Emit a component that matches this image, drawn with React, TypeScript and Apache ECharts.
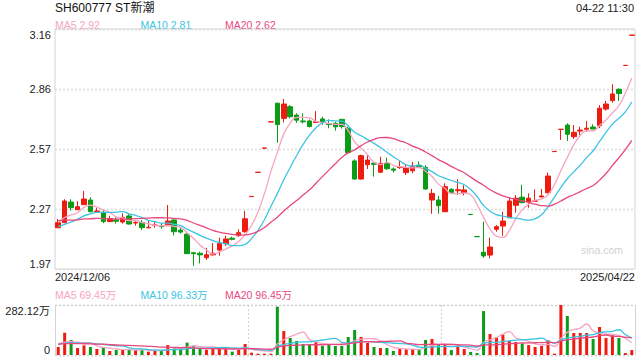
import React, { useEffect, useRef } from 'react';
import * as echarts from 'echarts';

// ---- data ----
const tradingDays: [string, number[]][] = [
  ['2024/12', [6, 9, 10, 11, 12, 13, 16, 17, 18, 19, 20, 23, 24, 25, 26, 27, 30, 31]],
  ['2025/01', [2, 3, 6, 7, 8, 9, 10, 13, 14, 15, 16, 17, 20, 21, 22, 23, 24, 27]],
  ['2025/02', [5, 6, 7, 10, 11, 12, 13, 14, 17, 18, 19, 20, 21, 24, 25, 26, 27, 28]],
  ['2025/03', [3, 4, 5, 6, 7, 10, 11, 12, 13, 14, 17, 18, 19, 20, 21, 24, 25, 26, 27, 28, 31]],
  ['2025/04', [1, 2, 3, 7, 8, 9, 10, 11, 14, 15, 16, 17, 18, 21, 22]],
];
const dates: string[] = tradingDays.flatMap(([m, ds]) => ds.map((d) => `${m}/${String(d).padStart(2, '0')}`));

const opens = [
  2.175, 2.200, 2.302, 2.264, 2.289, 2.312, 2.255, 2.251, 2.205, 2.213,
  2.203, 2.233, 2.198, 2.201, 2.174, 2.186, 2.183, 2.185, 2.213, 2.163,
  2.143, 2.051, 2.048, 2.026, 2.040, 2.064, 2.095, 2.123, 2.135, 2.155,
  2.329, 2.449, 2.569, 2.699, 2.792, 2.717, 2.775, 2.733, 2.704, 2.704,
  2.697, 2.714, 2.690, 2.692, 2.712, 2.668, 2.506, 2.416, 2.487, 2.495,
  2.450, 2.494, 2.466, 2.473, 2.448, 2.457, 2.484, 2.474, 2.312, 2.312,
  2.254, 2.365, 2.358, 2.348, 2.241, 2.131, 2.053, 2.039, 2.167, 2.183,
  2.224, 2.286, 2.326, 2.304, 2.306, 2.327, 2.348, 2.552, 2.662, 2.684,
  2.626, 2.654, 2.663, 2.674, 2.680, 2.763, 2.805, 2.861, 2.979, 3.129,
];
const closes = [
  2.200, 2.307, 2.274, 2.279, 2.317, 2.254, 2.258, 2.205, 2.220, 2.207,
  2.226, 2.193, 2.200, 2.175, 2.177, 2.188, 2.180, 2.208, 2.155, 2.153,
  2.046, 2.046, 2.040, 2.041, 2.048, 2.097, 2.119, 2.117, 2.150, 2.219,
  2.330, 2.450, 2.570, 2.700, 2.686, 2.788, 2.725, 2.708, 2.700, 2.676,
  2.700, 2.697, 2.686, 2.675, 2.676, 2.547, 2.416, 2.532, 2.510, 2.489,
  2.494, 2.467, 2.460, 2.476, 2.472, 2.481, 2.477, 2.367, 2.345, 2.284,
  2.378, 2.348, 2.363, 2.362, 2.240, 2.130, 2.035, 2.079, 2.180, 2.208,
  2.307, 2.321, 2.299, 2.321, 2.308, 2.332, 2.431, 2.553, 2.663, 2.638,
  2.648, 2.659, 2.668, 2.664, 2.767, 2.788, 2.838, 2.840, 2.980, 3.130,
];
const lows = [
  2.172, 2.197, 2.259, 2.263, 2.289, 2.251, 2.250, 2.197, 2.203, 2.195,
  2.195, 2.191, 2.185, 2.163, 2.174, 2.175, 2.170, 2.183, 2.137, 2.146,
  2.044, 1.986, 1.998, 2.015, 2.037, 2.036, 2.085, 2.112, 2.130, 2.150,
  2.329, 2.449, 2.569, 2.699, 2.596, 2.697, 2.717, 2.695, 2.692, 2.672,
  2.695, 2.685, 2.668, 2.656, 2.666, 2.544, 2.413, 2.414, 2.466, 2.428,
  2.446, 2.462, 2.448, 2.466, 2.436, 2.445, 2.477, 2.362, 2.244, 2.244,
  2.254, 2.345, 2.337, 2.335, 2.240, 2.130, 2.025, 2.023, 2.155, 2.135,
  2.224, 2.249, 2.296, 2.274, 2.305, 2.325, 2.345, 2.552, 2.610, 2.605,
  2.615, 2.634, 2.651, 2.664, 2.668, 2.755, 2.795, 2.803, 2.979, 3.129,
];
const highs = [
  2.218, 2.316, 2.316, 2.306, 2.357, 2.326, 2.272, 2.263, 2.234, 2.226,
  2.246, 2.244, 2.210, 2.213, 2.210, 2.203, 2.198, 2.287, 2.216, 2.178,
  2.155, 2.053, 2.056, 2.075, 2.098, 2.125, 2.135, 2.131, 2.167, 2.258,
  2.330, 2.450, 2.570, 2.700, 2.795, 2.813, 2.783, 2.742, 2.742, 2.712,
  2.753, 2.725, 2.712, 2.700, 2.714, 2.676, 2.514, 2.537, 2.537, 2.496,
  2.527, 2.522, 2.474, 2.510, 2.487, 2.501, 2.504, 2.484, 2.367, 2.333,
  2.395, 2.370, 2.415, 2.385, 2.241, 2.131, 2.205, 2.125, 2.188, 2.254,
  2.325, 2.337, 2.387, 2.345, 2.365, 2.367, 2.448, 2.553, 2.663, 2.692,
  2.684, 2.676, 2.704, 2.687, 2.783, 2.803, 2.886, 2.866, 2.980, 3.130,
];
// volumes in 万 (10k shares)
const volumes = [
  45.0, 126.0, 85.0, 39.5, 54.5, 45.0, 34.0, 39.5, 22.6, 28.0,
  30.0, 30.0, 28.0, 30.0, 18.8, 24.5, 22.6, 56.0, 37.6, 39.5,
  69.6, 52.7, 37.6, 30.0, 37.6, 37.6, 37.6, 18.8, 30.0, 62.0,
  13.0, 7.5, 7.5, 7.5, 272.7, 135.0, 96.0, 79.0, 62.0, 62.0,
  73.4, 50.8, 58.0, 50.8, 50.8, 101.6, 141.0, 101.6, 69.6, 45.0,
  39.5, 39.5, 22.6, 37.6, 32.0, 34.0, 28.0, 84.6, 90.0, 58.0,
  56.0, 28.0, 45.0, 34.0, 17.0, 11.0, 248.0, 118.5, 99.7, 114.7,
  79.0, 73.4, 64.0, 56.0, 45.0, 50.8, 82.8, 7.5, 282.12, 220.0,
  124.0, 124.0, 124.0, 90.0, 158.0, 96.0, 111.0, 96.0, 11.0, 28.0,
];
// estimated sessions before the visible window (feed the moving averages at the left edge)
const priorCloses = [2.26, 2.28, 2.25, 2.22, 2.24, 2.21, 2.23, 2.25, 2.22, 2.24, 2.19, 2.16, 2.14, 2.15, 2.16, 2.18, 2.21, 2.22, 2.19];
const priorVolumes = [55, 62, 48, 70, 58, 66, 52, 60, 75, 57, 50, 64, 58, 61, 55, 72, 68, 60, 66];

const priceTickLabels = ['1.97', '2.27', '2.57', '2.86', '3.16'];
const priceMin = 1.97;
const priceMax = 3.16;
const maPeriods = [5, 10, 20];
const priceMaReadout = ['2.92', '2.81', '2.62'];
const volumeMaReadout = ['69.45万', '96.33万', '96.45万'];
const stockTitle = 'SH600777 ST新潮';
const timeStamp = '04-22 11:30';

// ---- styles ----
const FONT = "'Liberation Sans', Arial, 'Noto Sans CJK SC', sans-serif";
const UP = '#ee1c10';
const DOWN = '#0a9c17';
const MA_COLORS = ['#f7a3c2', '#3cc4e3', '#e9487f'];

function movingAverage(prior: number[], values: number[], n: number): number[] {
  const all = [...prior, ...values];
  return values.map((_, i) => {
    const end = prior.length + i;
    let s = 0;
    for (let k = 0; k < n; k++) s += all[end - k];
    return +(s / n).toFixed(4);
  });
}

function signOf(i: number): number {
  if (closes[i] > opens[i]) return 1;
  if (closes[i] < opens[i]) return -1;
  return i > 0 && closes[i - 1] > closes[i] ? -1 : 1;
}

export default function App() {
  const ref = useRef<HTMLDivElement>(null);

  useEffect(() => {
    if (!ref.current) return;
    const chart = echarts.init(ref.current, undefined, { renderer: 'svg' });

    const candleData = opens.map((o, i) => [o, closes[i], lows[i], highs[i]]);
    const volMax = Math.max(...volumes);
    const volData = volumes.map((v, i) => ({ value: v, itemStyle: { color: signOf(i) > 0 ? UP : DOWN } }));
    const priceInterval = (priceMax - priceMin) / (priceTickLabels.length - 1);

    const priceMaSeries = maPeriods.map((n, k) => ({
      type: 'line',
      name: `MA${n}`,
      xAxisIndex: 0,
      yAxisIndex: 0,
      data: movingAverage(priorCloses, closes, n),
      showSymbol: false,
      smooth: true,
      silent: true,
      lineStyle: { color: MA_COLORS[k], width: 1.3 },
      z: 3,
    }));
    const volMaSeries = maPeriods.map((n, k) => ({
      type: 'line',
      name: `VMA${n}`,
      xAxisIndex: 1,
      yAxisIndex: 1,
      data: movingAverage(priorVolumes, volumes, n),
      showSymbol: false,
      smooth: true,
      silent: true,
      lineStyle: { color: MA_COLORS[k], width: 1.3 },
      z: 3,
    }));

    const legendX = [55, 140.5, 225];
    const texts: any[] = [
      { type: 'text', x: 55, y: 8, style: { text: stockTitle, font: `12px ${FONT}`, fill: '#111', verticalAlign: 'middle' } },
      { type: 'text', x: 634, y: 8, style: { text: timeStamp, font: `11px ${FONT}`, fill: '#222', align: 'right', verticalAlign: 'middle' } },
      { type: 'text', x: 55, y: 277, style: { text: dates[0], font: `11px ${FONT}`, fill: '#222', verticalAlign: 'middle' } },
      { type: 'text', x: 635, y: 277, style: { text: dates[dates.length - 1], font: `11px ${FONT}`, fill: '#222', align: 'right', verticalAlign: 'middle' } },
      { type: 'text', x: 602, y: 249.5, z: 0, style: { text: 'sina.com', font: `10.5px ${FONT}`, fill: '#d2d2d2', align: 'center', verticalAlign: 'middle' } },
    ];
    maPeriods.forEach((n, k) => {
      texts.push({ type: 'text', x: legendX[k], y: 24.5, style: { text: `MA${n} ${priceMaReadout[k]}`, font: `10.5px ${FONT}`, fill: MA_COLORS[k], verticalAlign: 'middle' } });
      texts.push({ type: 'text', x: legendX[k], y: 295, style: { text: `MA${n} ${volumeMaReadout[k]}`, font: `10.5px ${FONT}`, fill: MA_COLORS[k], verticalAlign: 'middle' } });
    });

    const dotted = { color: '#dcdcdc', type: [2, 2] as any, width: 1.3 };

    chart.setOption({
      animation: false,
      backgroundColor: '#fff',
      textStyle: { fontFamily: FONT },
      grid: [
        { left: 55, right: 5, top: 29, height: 240, show: true, borderColor: '#d4d4d4', borderWidth: 1 },
        { left: 55, right: 5, top: 305, height: 50 },
      ],
      xAxis: [
        {
          type: 'category', gridIndex: 0, data: dates, boundaryGap: true,
          axisLine: { show: false }, axisTick: { show: false }, axisLabel: { show: false }, splitLine: { show: false },
        },
        {
          type: 'category', gridIndex: 1, data: dates, boundaryGap: true,
          axisLine: { show: false }, axisTick: { show: false }, axisLabel: { show: false },
          splitLine: { show: true, interval: (i: number) => i === 30 || i === 60, lineStyle: { color: '#cfcfcf', type: [2, 2], width: 1 } },
        },
      ],
      yAxis: [
        {
          type: 'value', gridIndex: 0, min: priceMin, max: priceMax, interval: priceInterval, scale: true,
          axisLine: { show: false }, axisTick: { show: false },
          axisLabel: {
            fontSize: 11, color: '#222', margin: 4, showMaxLabel: true, showMinLabel: true,
            verticalAlignMinLabel: 'bottom', verticalAlignMaxLabel: 'top',
            formatter: (v: number) => {
              if (v !== priceMax && Math.abs(v - priceMax) < 1e-6) return '';
              return priceTickLabels[Math.round((v - priceMin) / priceInterval)] ?? '';
            },
          },
          splitLine: { show: true, lineStyle: dotted },
        },
        {
          type: 'value', gridIndex: 1, min: 0, max: volMax, interval: volMax,
          axisLine: { show: true, lineStyle: { color: '#d4d4d4' } }, axisTick: { show: false },
          axisLabel: {
            fontSize: 11, color: '#222', margin: 5,
            verticalAlignMinLabel: 'bottom', verticalAlignMaxLabel: 'top',
            formatter: (v: number) => (v === 0 ? '0' : `${v.toFixed(2)}万`),
          },
          splitLine: { show: true, lineStyle: { color: '#d0d0d0', type: [2, 2], width: 1.3 } },
        },
        {
          type: 'value', gridIndex: 1, position: 'right', min: 0, max: volMax, interval: volMax,
          axisLine: { show: true, lineStyle: { color: '#d4d4d4' } }, axisTick: { show: false },
          axisLabel: { show: false }, splitLine: { show: false },
        },
      ],
      series: [
        {
          type: 'candlestick', name: 'K', xAxisIndex: 0, yAxisIndex: 0, data: candleData, barWidth: 5,
          itemStyle: { color: UP, color0: DOWN, borderColor: UP, borderColor0: DOWN, borderWidth: 1 },
          silent: true, z: 2,
        },
        ...priceMaSeries,
        {
          type: 'bar', name: 'VOL', xAxisIndex: 1, yAxisIndex: 1, data: volData, barWidth: 3, silent: true, z: 2,
        },
        ...volMaSeries,
      ],
      graphic: texts,
    });

    return () => chart.dispose();
  }, []);

  return <div ref={ref} style={{ position: 'absolute', left: 0, top: 0, width: 640, height: 360 }} />;
}
